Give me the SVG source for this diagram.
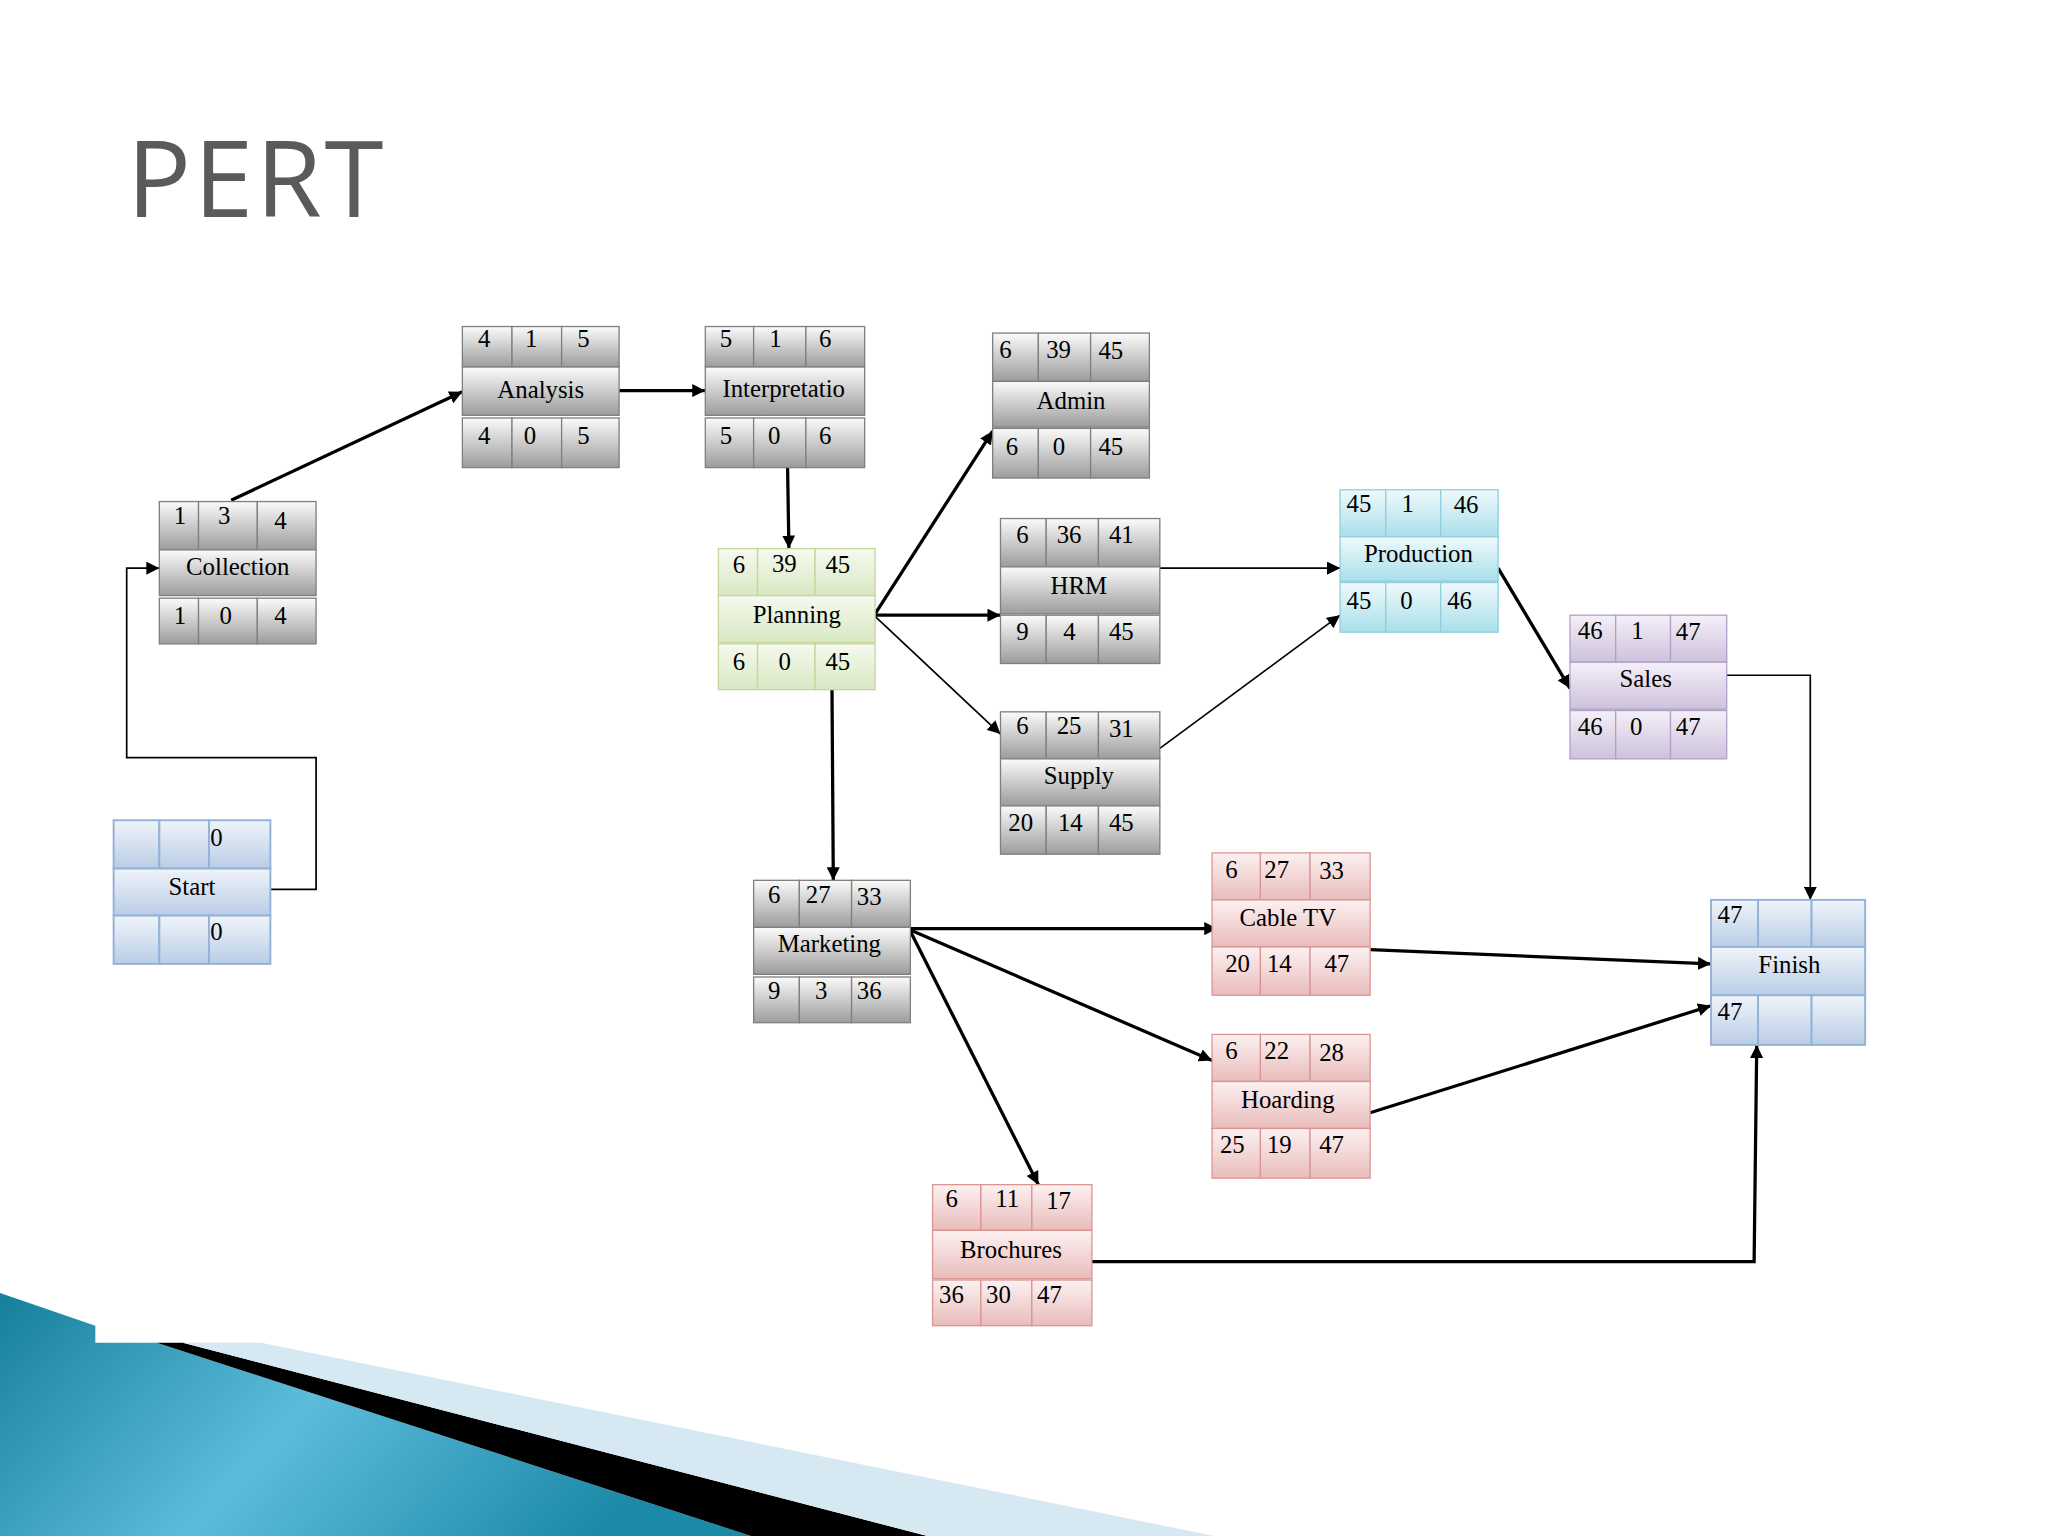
<svg xmlns="http://www.w3.org/2000/svg" width="2048" height="1536" viewBox="0 0 2048 1536">
<defs>
<linearGradient id="gG" x1="0" y1="0" x2="0" y2="1"><stop offset="0" stop-color="#fbfbfb"/><stop offset="1" stop-color="#9c9c9c"/></linearGradient>
<linearGradient id="gN" x1="0" y1="0" x2="0" y2="1"><stop offset="0" stop-color="#f6faef"/><stop offset="1" stop-color="#d8e8c2"/></linearGradient>
<linearGradient id="gB" x1="0" y1="0" x2="0" y2="1"><stop offset="0" stop-color="#f0f4fa"/><stop offset="1" stop-color="#b9cde6"/></linearGradient>
<linearGradient id="gC" x1="0" y1="0" x2="0" y2="1"><stop offset="0" stop-color="#effafc"/><stop offset="1" stop-color="#a9dfea"/></linearGradient>
<linearGradient id="gP" x1="0" y1="0" x2="0" y2="1"><stop offset="0" stop-color="#f4f0f8"/><stop offset="1" stop-color="#cdc1dc"/></linearGradient>
<linearGradient id="gR" x1="0" y1="0" x2="0" y2="1"><stop offset="0" stop-color="#fdf1f1"/><stop offset="1" stop-color="#e8bcbb"/></linearGradient>
<linearGradient id="teal" x1="0" y1="0" x2="1" y2="0.3"><stop offset="0" stop-color="#157f9c"/><stop offset="0.5" stop-color="#5cbcdb"/><stop offset="1" stop-color="#1b8aa8"/></linearGradient>
<marker id="ar" viewBox="0 0 10 10" refX="10" refY="5" markerWidth="10" markerHeight="10" markerUnits="userSpaceOnUse" orient="auto"><path d="M0,0 L10,5 L0,10 z" fill="#000"/></marker>
</defs>
<style>
.t{font-family:"Liberation Serif",serif;font-size:19px;fill:#000}
.n{font-family:"Liberation Serif",serif;font-size:19px;fill:#000}
.gy rect{fill:url(#gG);stroke:#7f7f7f;stroke-width:1}
.gn rect{fill:url(#gN);stroke:#c3d69b;stroke-width:1}
.bl rect{fill:url(#gB);stroke:#95b3d7;stroke-width:1.5}
.cy rect{fill:url(#gC);stroke:#92cddc;stroke-width:1}
.pu rect{fill:url(#gP);stroke:#b2a1c7;stroke-width:1}
.rd rect{fill:url(#gR);stroke:#d99694;stroke-width:1}
.e{fill:none;stroke:#000;stroke-width:2.5}
.f{fill:none;stroke:#000;stroke-width:1.3}
</style>
<rect width="2048" height="1536" fill="#fff"/>
<g transform="scale(1.30612)">
<text x="97" y="166" font-family="Open Sans,Liberation Sans,sans-serif" font-size="82" fill="#5a5a5a" style="letter-spacing:2px">PERT</text>
<!-- bottom decoration -->
<polygon points="0,990 73,1015 73,1028 120,1028 575,1176 0,1176" fill="url(#teal)"/>
<polygon points="120,1028 140,1028 710,1176 575,1176" fill="#000"/>
<polygon points="140,1028 200,1028 930,1176 710,1176" fill="#d6e8f1"/>

<g id="edges">
<polyline class="f" points="207,681 242,681 242,580 97,580 97,435 122,435" marker-end="url(#ar)"/>
<line class="e" x1="177" y1="383" x2="354" y2="300" marker-end="url(#ar)"/>
<line class="e" x1="474" y1="299" x2="540" y2="299" marker-end="url(#ar)"/>
<line class="e" x1="603" y1="358" x2="604" y2="420" marker-end="url(#ar)"/>
<line class="e" x1="670" y1="470" x2="760" y2="330" marker-end="url(#ar)"/>
<line class="e" x1="670" y1="471" x2="766" y2="471" marker-end="url(#ar)"/>
<line class="f" x1="670" y1="472" x2="766" y2="562" marker-end="url(#ar)"/>
<line class="e" x1="637" y1="528" x2="638" y2="674" marker-end="url(#ar)"/>
<line class="f" x1="888" y1="435" x2="1026" y2="435" marker-end="url(#ar)"/>
<line class="f" x1="888" y1="573" x2="1026" y2="471" marker-end="url(#ar)"/>
<line class="e" x1="1147" y1="435" x2="1202" y2="527" marker-end="url(#ar)"/>
<polyline class="f" points="1322,517 1386,517 1386,689" marker-end="url(#ar)"/>
<line class="e" x1="697" y1="711" x2="932" y2="711" marker-end="url(#ar)"/>
<line class="e" x1="697" y1="712" x2="928" y2="812" marker-end="url(#ar)"/>
<line class="e" x1="697" y1="713" x2="795" y2="907" marker-end="url(#ar)"/>
<line class="e" x1="1049" y1="727" x2="1310" y2="738" marker-end="url(#ar)"/>
<line class="e" x1="1049" y1="852" x2="1310" y2="770" marker-end="url(#ar)"/>
<polyline class="e" points="836,966 1343,966 1345,800" marker-end="url(#ar)"/>
</g>

<g id="start" class="bl" transform="translate(87,628)">
<rect x="0" y="0" width="35" height="37"/><rect x="35" y="0" width="38" height="37"/><rect x="73" y="0" width="47" height="37"/>
<rect x="0" y="37" width="120" height="36"/>
<rect x="0" y="73" width="35" height="37"/><rect x="35" y="73" width="38" height="37"/><rect x="73" y="73" width="47" height="37"/>
<text class="n" x="74" y="20">0</text><text class="t" x="60" y="57" text-anchor="middle">Start</text><text class="n" x="74" y="92">0</text>
</g>

<g id="collection" class="gy" transform="translate(122,384)">
<rect x="0" y="0" width="30" height="37"/><rect x="30" y="0" width="45" height="37"/><rect x="75" y="0" width="45" height="37"/>
<rect x="0" y="37" width="120" height="35"/>
<rect x="0" y="74" width="30" height="35"/><rect x="30" y="74" width="45" height="35"/><rect x="75" y="74" width="45" height="35"/>
<text class="n" x="11" y="17">1</text><text class="n" x="45" y="17">3</text><text class="n" x="88" y="21">4</text>
<text class="t" x="60" y="56" text-anchor="middle">Collection</text>
<text class="n" x="11" y="94">1</text><text class="n" x="46" y="94">0</text><text class="n" x="88" y="94">4</text>
</g>

<g id="analysis" class="gy" transform="translate(354,250)">
<rect x="0" y="0" width="38" height="31"/><rect x="38" y="0" width="38" height="31"/><rect x="76" y="0" width="44" height="31"/>
<rect x="0" y="31" width="120" height="37"/>
<rect x="0" y="70" width="38" height="38"/><rect x="38" y="70" width="38" height="38"/><rect x="76" y="70" width="44" height="38"/>
<text class="n" x="12" y="16">4</text><text class="n" x="48" y="16">1</text><text class="n" x="88" y="16">5</text>
<text class="t" x="60" y="55" text-anchor="middle">Analysis</text>
<text class="n" x="12" y="90">4</text><text class="n" x="47" y="90">0</text><text class="n" x="88" y="90">5</text>
</g>

<g id="interpretation" class="gy" transform="translate(540,250)">
<rect x="0" y="0" width="37" height="31"/><rect x="37" y="0" width="40" height="31"/><rect x="77" y="0" width="45" height="31"/>
<rect x="0" y="31" width="122" height="37"/>
<rect x="0" y="70" width="37" height="38"/><rect x="37" y="70" width="40" height="38"/><rect x="77" y="70" width="45" height="38"/>
<text class="n" x="11" y="16">5</text><text class="n" x="49" y="16">1</text><text class="n" x="87" y="16">6</text>
<text class="t" x="60" y="54" text-anchor="middle">Interpretatio</text>
<text class="n" x="11" y="90">5</text><text class="n" x="48" y="90">0</text><text class="n" x="87" y="90">6</text>
</g>

<g id="admin" class="gy" transform="translate(760,255)">
<rect x="0" y="0" width="35" height="37"/><rect x="35" y="0" width="40" height="37"/><rect x="75" y="0" width="45" height="37"/>
<rect x="0" y="37" width="120" height="35"/>
<rect x="0" y="73" width="35" height="38"/><rect x="35" y="73" width="40" height="38"/><rect x="75" y="73" width="45" height="38"/>
<text class="n" x="5" y="19">6</text><text class="n" x="41" y="19">39</text><text class="n" x="81" y="20">45</text>
<text class="t" x="60" y="58" text-anchor="middle">Admin</text>
<text class="n" x="10" y="93">6</text><text class="n" x="46" y="93">0</text><text class="n" x="81" y="93">45</text>
</g>

<g id="hrm" class="gy" transform="translate(766,397)">
<rect x="0" y="0" width="35" height="37"/><rect x="35" y="0" width="40" height="37"/><rect x="75" y="0" width="47" height="37"/>
<rect x="0" y="37" width="122" height="36"/>
<rect x="0" y="74" width="35" height="37"/><rect x="35" y="74" width="40" height="37"/><rect x="75" y="74" width="47" height="37"/>
<text class="n" x="12" y="19">6</text><text class="n" x="43" y="19">36</text><text class="n" x="83" y="19">41</text>
<text class="t" x="60" y="58" text-anchor="middle">HRM</text>
<text class="n" x="12" y="93">9</text><text class="n" x="48" y="93">4</text><text class="n" x="83" y="93">45</text>
</g>

<g id="supply" class="gy" transform="translate(766,545)">
<rect x="0" y="0" width="35" height="36"/><rect x="35" y="0" width="40" height="36"/><rect x="75" y="0" width="47" height="36"/>
<rect x="0" y="36" width="122" height="36"/>
<rect x="0" y="72" width="35" height="37"/><rect x="35" y="72" width="40" height="37"/><rect x="75" y="72" width="47" height="37"/>
<text class="n" x="12" y="17">6</text><text class="n" x="43" y="17">25</text><text class="n" x="83" y="19">31</text>
<text class="t" x="60" y="55" text-anchor="middle">Supply</text>
<text class="n" x="6" y="91">20</text><text class="n" x="44" y="91">14</text><text class="n" x="83" y="91">45</text>
</g>

<g id="planning" class="gn" transform="translate(550,420)">
<rect x="0" y="0" width="30" height="36"/><rect x="30" y="0" width="44" height="36"/><rect x="74" y="0" width="46" height="36"/>
<rect x="0" y="36" width="120" height="36"/>
<rect x="0" y="73" width="30" height="35"/><rect x="30" y="73" width="44" height="35"/><rect x="74" y="73" width="46" height="35"/>
<text class="n" x="11" y="19">6</text><text class="n" x="41" y="18">39</text><text class="n" x="82" y="19">45</text>
<text class="t" x="60" y="57" text-anchor="middle">Planning</text>
<text class="n" x="11" y="93">6</text><text class="n" x="46" y="93">0</text><text class="n" x="82" y="93">45</text>
</g>

<g id="production" class="cy" transform="translate(1026,375)">
<rect x="0" y="0" width="35" height="36"/><rect x="35" y="0" width="42" height="36"/><rect x="77" y="0" width="44" height="36"/>
<rect x="0" y="36" width="121" height="34"/>
<rect x="0" y="71" width="35" height="38"/><rect x="35" y="71" width="42" height="38"/><rect x="77" y="71" width="44" height="38"/>
<text class="n" x="5" y="17">45</text><text class="n" x="47" y="17">1</text><text class="n" x="87" y="18">46</text>
<text class="t" x="60" y="55" text-anchor="middle">Production</text>
<text class="n" x="5" y="91">45</text><text class="n" x="46" y="91">0</text><text class="n" x="82" y="91">46</text>
</g>

<g id="sales" class="pu" transform="translate(1202,471)">
<rect x="0" y="0" width="35" height="36"/><rect x="35" y="0" width="42" height="36"/><rect x="77" y="0" width="43" height="36"/>
<rect x="0" y="36" width="120" height="36"/>
<rect x="0" y="73" width="35" height="37"/><rect x="35" y="73" width="42" height="37"/><rect x="77" y="73" width="43" height="37"/>
<text class="n" x="6" y="18">46</text><text class="n" x="47" y="18">1</text><text class="n" x="81" y="19">47</text>
<text class="t" x="58" y="55" text-anchor="middle">Sales</text>
<text class="n" x="6" y="92">46</text><text class="n" x="46" y="92">0</text><text class="n" x="81" y="92">47</text>
</g>

<g id="marketing" class="gy" transform="translate(577,674)">
<rect x="0" y="0" width="35" height="36"/><rect x="35" y="0" width="40" height="36"/><rect x="75" y="0" width="45" height="36"/>
<rect x="0" y="36" width="120" height="36"/>
<rect x="0" y="74" width="35" height="35"/><rect x="35" y="74" width="40" height="35"/><rect x="75" y="74" width="45" height="35"/>
<text class="n" x="11" y="17">6</text><text class="n" x="40" y="17">27</text><text class="n" x="79" y="19">33</text>
<text class="t" x="58" y="55" text-anchor="middle">Marketing</text>
<text class="n" x="11" y="91">9</text><text class="n" x="47" y="91">3</text><text class="n" x="79" y="91">36</text>
</g>

<g id="cabletv" class="rd" transform="translate(928,653)">
<rect x="0" y="0" width="37" height="36"/><rect x="37" y="0" width="38" height="36"/><rect x="75" y="0" width="46" height="36"/>
<rect x="0" y="36" width="121" height="36"/>
<rect x="0" y="72" width="37" height="37"/><rect x="37" y="72" width="38" height="37"/><rect x="75" y="72" width="46" height="37"/>
<text class="n" x="10" y="19">6</text><text class="n" x="40" y="19">27</text><text class="n" x="82" y="20">33</text>
<text class="t" x="58" y="56" text-anchor="middle">Cable TV</text>
<text class="n" x="10" y="91">20</text><text class="n" x="42" y="91">14</text><text class="n" x="86" y="91">47</text>
</g>

<g id="hoarding" class="rd" transform="translate(928,792)">
<rect x="0" y="0" width="37" height="36"/><rect x="37" y="0" width="38" height="36"/><rect x="75" y="0" width="46" height="36"/>
<rect x="0" y="36" width="121" height="36"/>
<rect x="0" y="72" width="37" height="38"/><rect x="37" y="72" width="38" height="38"/><rect x="75" y="72" width="46" height="38"/>
<text class="n" x="10" y="19">6</text><text class="n" x="40" y="19">22</text><text class="n" x="82" y="20">28</text>
<text class="t" x="58" y="56" text-anchor="middle">Hoarding</text>
<text class="n" x="6" y="91">25</text><text class="n" x="42" y="91">19</text><text class="n" x="82" y="91">47</text>
</g>

<g id="brochures" class="rd" transform="translate(714,907)">
<rect x="0" y="0" width="37" height="35"/><rect x="37" y="0" width="39" height="35"/><rect x="76" y="0" width="46" height="35"/>
<rect x="0" y="35" width="122" height="37"/>
<rect x="0" y="73" width="37" height="35"/><rect x="37" y="73" width="39" height="35"/><rect x="76" y="73" width="46" height="35"/>
<text class="n" x="10" y="17">6</text><text class="n" x="48" y="17">11</text><text class="n" x="87" y="19">17</text>
<text class="t" x="60" y="56" text-anchor="middle">Brochures</text>
<text class="n" x="5" y="91">36</text><text class="n" x="41" y="91">30</text><text class="n" x="80" y="91">47</text>
</g>

<g id="finish" class="bl" transform="translate(1310,689)">
<rect x="0" y="0" width="36" height="36"/><rect x="36" y="0" width="41" height="36"/><rect x="77" y="0" width="41" height="36"/>
<rect x="0" y="36" width="118" height="37"/>
<rect x="0" y="73" width="36" height="38"/><rect x="36" y="73" width="41" height="38"/><rect x="77" y="73" width="41" height="38"/>
<text class="n" x="5" y="18">47</text>
<text class="t" x="60" y="56" text-anchor="middle">Finish</text>
<text class="n" x="5" y="92">47</text>
</g>
</g>
</svg>
